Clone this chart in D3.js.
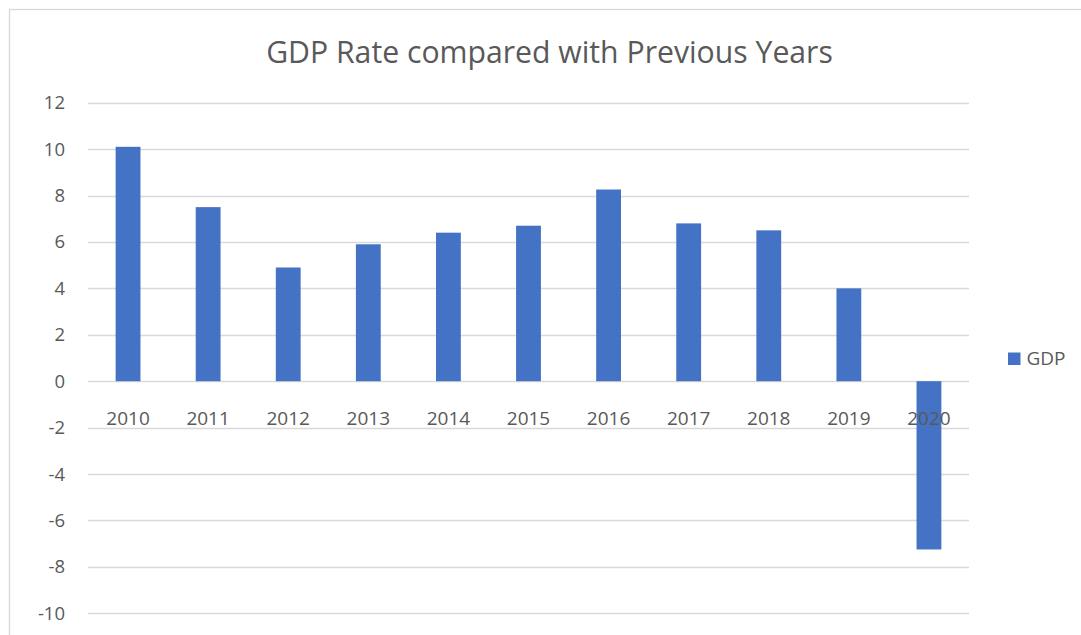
<!DOCTYPE html>
<html>
<head>
<meta charset="utf-8">
<script src="https://cdn.jsdelivr.net/npm/d3@7"></script>
<style>
  html, body { margin: 0; padding: 0; background: #ffffff; }
  svg { display: block; font-family: "Open Sans", "Noto Sans", sans-serif; }
</style>
</head>
<body>
<svg id="chart" width="1081" height="635"></svg>
<script>
// GDP growth rate by year
const years = ["2010", "2011", "2012", "2013", "2014", "2015", "2016", "2017", "2018", "2019", "2020"];
const gdp = [10.1, 7.5, 4.9, 5.9, 6.4, 6.7, 8.26, 6.8, 6.5, 4.0, -7.25];
const yTicks = [12, 10, 8, 6, 4, 2, 0, -2, -4, -6, -8, -10];
const chartTitle = "GDP Rate compared with Previous Years";
const seriesName = "GDP";

const barColor = "#4472C4";
const gridColor = "#D9D9D9";
const textColor = "#595959";

const svg = d3.select("#chart");

// chart frame
svg.append("rect")
  .attr("x", 9.5).attr("y", 9.5)
  .attr("width", 1200).attr("height", 800)
  .attr("fill", "none")
  .attr("stroke", gridColor)
  .attr("stroke-width", 1.3);

const plot = { left: 88, right: 969, top: 102.7, bottom: 613.3 };

const x = d3.scaleBand()
  .domain(years)
  .range([plot.left, plot.right])
  .paddingInner(0.69)
  .paddingOuter(0.345);

const y = d3.scaleLinear()
  .domain([-10, 12])
  .range([plot.bottom, plot.top]);

// horizontal gridlines
svg.append("g")
  .selectAll("line")
  .data(yTicks)
  .join("line")
  .attr("x1", plot.left).attr("x2", plot.right)
  .attr("y1", d => Math.round(y(d)) + 0.5)
  .attr("y2", d => Math.round(y(d)) + 0.5)
  .attr("stroke", gridColor)
  .attr("stroke-width", 1.3);

// value axis labels
svg.append("g")
  .selectAll("text")
  .data(yTicks)
  .join("text")
  .attr("x", 65)
  .attr("y", d => y(d))
  .attr("dy", "0.35em")
  .attr("text-anchor", "end")
  .attr("fill", textColor)
  .style("font-size", "18.5px")
  .text(d => d);

// bars
svg.append("g")
  .selectAll("rect")
  .data(gdp)
  .join("rect")
  .attr("x", (d, i) => x(years[i]))
  .attr("width", x.bandwidth())
  .attr("y", d => y(Math.max(0, d)))
  .attr("height", d => Math.abs(y(d) - y(0)))
  .attr("fill", barColor);

// category labels sit just below the zero line
svg.append("g")
  .selectAll("text")
  .data(years)
  .join("text")
  .attr("x", d => x(d) + x.bandwidth() / 2)
  .attr("y", y(0) + 37)
  .attr("dy", "0.35em")
  .attr("text-anchor", "middle")
  .attr("fill", textColor)
  .style("font-size", "19px")
  .text(d => d);

// title
svg.append("text")
  .attr("x", 549.5)
  .attr("y", 52)
  .attr("dy", "0.35em")
  .attr("text-anchor", "middle")
  .attr("fill", textColor)
  .style("font-size", "30.2px")
  .text(chartTitle);

// legend
const legend = svg.append("g").attr("transform", "translate(1008,352.5)");
legend.append("rect")
  .attr("width", 12.5).attr("height", 12.5)
  .attr("fill", barColor);
legend.append("text")
  .attr("x", 18.5)
  .attr("y", 6.25)
  .attr("dy", "0.35em")
  .attr("fill", textColor)
  .style("font-size", "19px")
  .text(seriesName);
</script>
</body>
</html>
